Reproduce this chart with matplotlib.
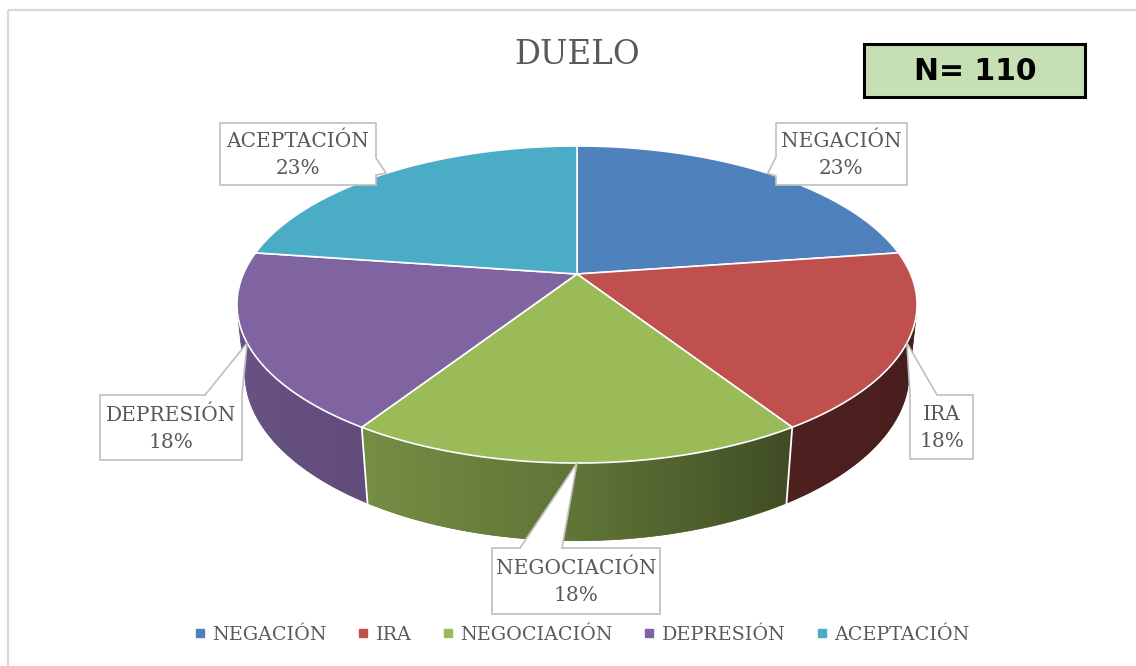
import numpy as np
import matplotlib
matplotlib.use('Agg')
import matplotlib.pyplot as plt
from matplotlib.patches import Polygon, Rectangle
from matplotlib.lines import Line2D
from matplotlib.colors import to_rgb

# ---------------- data ----------------
categories = ['NEGACIÓN', 'IRA', 'NEGOCIACIÓN', 'DEPRESIÓN', 'ACEPTACIÓN']
counts = [25, 20, 20, 20, 25]
colors = ['#4F81BD', '#C0504D', '#9BBB59', '#8064A2', '#4BACC6']
title = 'DUELO'
n_label = 'N= 110'

total = sum(counts)
pct_labels = [f"{round(100 * c / total):d}%" for c in counts]

# ---------------- figure ----------------
W, H = 1136, 666
fig = plt.figure(figsize=(W / 100, H / 100), dpi=100)
ax = fig.add_axes([0, 0, 1, 1])

TXT = '#595959'
SERIF = 'DejaVu Serif'

# outer chart frame
ax.add_patch(Rectangle((8, 10), 1140, 670, fill=False, edgecolor='#D9D9D9', lw=1.6, zorder=0))

# ---------------- 3D pie projection ----------------
CX, CY = 577, 274
SN = 0.4575
CS = np.sqrt(1 - SN ** 2)
DIST = 4.62
SCALE = 1541.6
THICK = 0.232


def proj(x, y, z):
    dy = y + DIST * CS
    dz = z - DIST * SN
    depth = dy * CS - dz * SN
    sx = x / depth
    sy = (dy * SN + dz * CS) / depth
    return CX + SCALE * sx, CY - SCALE * sy


def rim(theta_deg, z):
    th = np.radians(theta_deg)
    return proj(np.sin(th), np.cos(th), z * np.ones_like(th))


fractions = np.array(counts, dtype=float) / total
edges = np.concatenate([[0.0], np.cumsum(fractions)]) * 360.0

k = 1.0 / (DIST * CS)
front_lo = np.degrees(np.arccos(-k))
front_hi = 360.0 - front_lo


def shade(theta_deg):
    s = np.sin(np.radians(theta_deg))
    return np.interp(s, [-1, -0.54, 0, 0.54, 1], [0.83, 0.76, 0.62, 0.41, 0.37])


# side walls (gradient image clipped to wall polygon)
for i in range(len(counts)):
    a, b = edges[i], edges[i + 1]
    lo, hi = max(a, front_lo), min(b, front_hi)
    if lo >= hi:
        continue
    t = np.linspace(lo, hi, 300)
    tx, ty = rim(t, 0.0)
    bx, by = rim(t, -THICK)
    poly = np.column_stack([np.concatenate([tx, bx[::-1]]), np.concatenate([ty, by[::-1]])])
    base = np.array(to_rgb(colors[i]))
    meanc = np.clip(base * shade(0.5 * (lo + hi)), 0, 1)
    ax.add_patch(Polygon(poly, closed=True, facecolor=meanc, edgecolor=meanc, lw=0.5, zorder=2))
    clip = Polygon(poly, closed=True, facecolor='none', edgecolor='none', transform=ax.transData)
    ax.add_patch(clip)
    xmin, xmax = poly[:, 0].min(), poly[:, 0].max()
    ymin, ymax = poly[:, 1].min(), poly[:, 1].max()
    ncol = int(xmax - xmin) + 2
    xs = np.linspace(xmin, xmax, ncol)
    th_x = np.interp(xs, tx[::-1], t[::-1])
    img = np.clip(base[None, :] * shade(th_x)[:, None], 0, 1)[None, :, :]
    im = ax.imshow(img, extent=(xmin, xmax, ymax, ymin), aspect='auto',
                   interpolation='bilinear', zorder=2.5)
    im.set_clip_path(clip)

# white seams on walls
for e in edges:
    if front_lo < e < front_hi:
        x0, y0 = rim(np.array([e]), 0.0)
        x1, y1 = rim(np.array([e]), -THICK)
        ax.plot([x0[0], x1[0]], [y0[0], y1[0]], color='white', lw=1.3, zorder=3)

# top faces
apx, apy = proj(0.0, 0.0, 0.0)
for i in range(len(counts)):
    a, b = edges[i], edges[i + 1]
    t = np.linspace(a, b, 200)
    rx, ry = rim(t, 0.0)
    pts = np.column_stack([np.concatenate([[apx], rx]), np.concatenate([[apy], ry])])
    ax.add_patch(Polygon(pts, closed=True, facecolor=colors[i], edgecolor='white',
                         lw=1.2, joinstyle='round', zorder=4))

# ---------------- callouts ----------------
# box layout: x0, y0, x1, y1, pointer side, pointer base start, pointer base end
boxes = [
    (776, 123, 907, 185, 'left', 157, 176),
    (910, 395, 973, 459, 'top', 910, 937),
    (492, 548, 660, 614, 'top', 520, 562),
    (100, 395, 242, 460, 'top', 205, 242),
    (220, 123, 376, 185, 'right', 158, 175),
]

for i, (x0, y0, x1, y1, side, p, q) in enumerate(boxes):
    mid = 0.5 * (edges[i] + edges[i + 1])
    tipx, tipy = rim(np.array([mid]), 0.0)
    tip = (tipx[0], tipy[0])
    if side == 'left':
        verts = [(x0, y0), (x1, y0), (x1, y1), (x0, y1), (x0, q), tip, (x0, p)]
    elif side == 'right':
        verts = [(x0, y0), (x1, y0), (x1, p), tip, (x1, q), (x1, y1), (x0, y1)]
    else:  # top
        verts = [(x0, y0), (p, y0), tip, (q, y0), (x1, y0), (x1, y1), (x0, y1)]
    ax.add_patch(Polygon(verts, closed=True, facecolor='white', edgecolor='#BFBFBF',
                         lw=1.2, joinstyle='miter', zorder=6))
    ax.text(0.5 * (x0 + x1), 0.5 * (y0 + y1) + 1, f"{categories[i]}\n{pct_labels[i]}",
            ha='center', va='center', fontsize=14.5, family=SERIF, color=TXT,
            linespacing=1.55, zorder=7)

# ---------------- title ----------------
ax.text(577, 55, title, ha='center', va='center', fontsize=23.5, family=SERIF, color=TXT, zorder=7)

# ---------------- N box ----------------
ax.add_patch(Rectangle((864, 44), 221, 53, facecolor='#C6E0B4', edgecolor='black', lw=2.2, zorder=6))
ax.text(975, 71, n_label, ha='center', va='center', fontsize=21.5, family='DejaVu Sans',
        fontweight='heavy', color='black', zorder=7)

# ---------------- legend ----------------
handles = [Line2D([], [], marker='s', linestyle='none', color=c, markersize=5.5) for c in colors]
leg = ax.legend(handles, categories, loc='center', bbox_to_anchor=(582, 635),
                bbox_transform=ax.transData, ncol=5, frameon=False,
                prop={'family': SERIF, 'size': 13.8}, handlelength=0.6,
                handletextpad=0.35, columnspacing=1.6, labelcolor=TXT)

ax.set_xlim(0, W)
ax.set_ylim(H, 0)
ax.axis('off')

fig.savefig('out.png', dpi=100)
